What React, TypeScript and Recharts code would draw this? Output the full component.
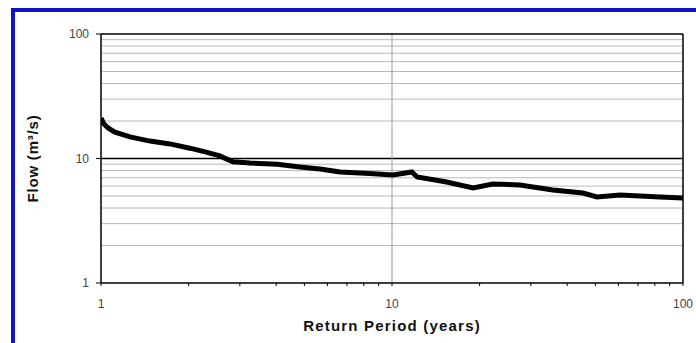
import { LineChart, Line, XAxis, YAxis, ReferenceLine } from "recharts"

// Return period (years) vs flow (m3/s)
const returnPeriod = [
  1.0, 1.024, 1.057, 1.117, 1.258, 1.474, 1.727, 2.02, 2.28, 2.56, 2.84, 3.25, 4.03, 4.83, 5.66, 6.63,
  8.4, 10.08, 11.7, 12.2, 15.4, 19.0, 22.2, 27.5, 35.7, 45.3, 50.6, 60.8, 83.4, 100,
]
const flow = [
  21.1, 18.9, 17.6, 16.3, 14.9, 13.8, 13.1, 12.1, 11.3, 10.5, 9.4, 9.2, 9.0, 8.55, 8.24, 7.79, 7.58,
  7.37, 7.79, 7.1, 6.48, 5.8, 6.24, 6.13, 5.58, 5.28, 4.91, 5.09, 4.91, 4.82,
]

const xTicks = [1, 2, 3, 4, 5, 6, 7, 8, 9, 10, 20, 30, 40, 50, 60, 70, 80, 90, 100]
const xLabels = [1, 10, 100]
const yTicks = [1, 10, 100]
const minorGrid = [2, 3, 4, 5, 6, 7, 8, 9, 20, 30, 40, 50, 60, 70, 80, 90]

const data = returnPeriod.map((rp, i) => ({ rp, flow: flow[i] }))

const font = "'Liberation Sans', Arial, sans-serif"

export default function App() {
  return (
    <div style={{ position: "relative", width: 696, height: 343, overflow: "hidden", background: "#fff" }}>
      <style>{"body{margin:0}"}</style>
      <div
        style={{
          position: "absolute",
          left: 11,
          top: 8,
          width: 720,
          height: 400,
          border: "4px solid #1212cc",
          boxSizing: "border-box",
        }}
      />
      <div style={{ position: "absolute", left: 0, top: 0 }}>
        <LineChart width={696} height={343} data={data} margin={{ top: 34, right: 13, bottom: 10, left: 0 }}>
          {minorGrid.map((v) => (
            <ReferenceLine key={v} y={v} stroke="#b8b8b8" strokeWidth={1} />
          ))}
          <ReferenceLine y={10} stroke="#000" strokeWidth={1.5} />
          <ReferenceLine x={10} stroke="#999" strokeWidth={1} />
          <ReferenceLine y={100} stroke="#000" strokeWidth={1.5} />
          <ReferenceLine x={100} stroke="#000" strokeWidth={1.5} />
          <XAxis
            dataKey="rp"
            type="number"
            scale="log"
            domain={[1, 100]}
            allowDataOverflow
            ticks={xTicks}
            interval={0}
            tickFormatter={(v: number) => (xLabels.includes(v) ? String(v) : "")}
            tickSize={3}
            tickMargin={13}
            height={50}
            axisLine={{ stroke: "#000", strokeWidth: 1.5 }}
            tickLine={{ stroke: "#000" }}
            tick={{ fontSize: 12, fill: "#444", fontFamily: font }}
            label={{
              value: "Return Period (years)",
              position: "insideBottom",
              offset: 2,
              style: { fontSize: 15, fontWeight: "bold", fill: "#111", fontFamily: font, letterSpacing: 1.2 },
            }}
          />
          <YAxis
            type="number"
            scale="log"
            domain={[1, 100]}
            allowDataOverflow
            ticks={yTicks}
            interval={0}
            width={101}
            tickSize={5}
            tickMargin={7}
            axisLine={{ stroke: "#000", strokeWidth: 1.5 }}
            tickLine={{ stroke: "#000" }}
            tick={{ fontSize: 12, fill: "#444", fontFamily: font }}
            label={{
              value: "Flow (m³/s)",
              angle: -90,
              position: "insideLeft",
              offset: 33,
              style: { fontSize: 15, fontWeight: "bold", fill: "#111", fontFamily: font, textAnchor: "middle", letterSpacing: 0.8 },
            }}
          />
          <Line
            dataKey="flow"
            type="linear"
            stroke="#000"
            strokeWidth={5}
            dot={false}
            isAnimationActive={false}
          />
        </LineChart>
      </div>
    </div>
  )
}
